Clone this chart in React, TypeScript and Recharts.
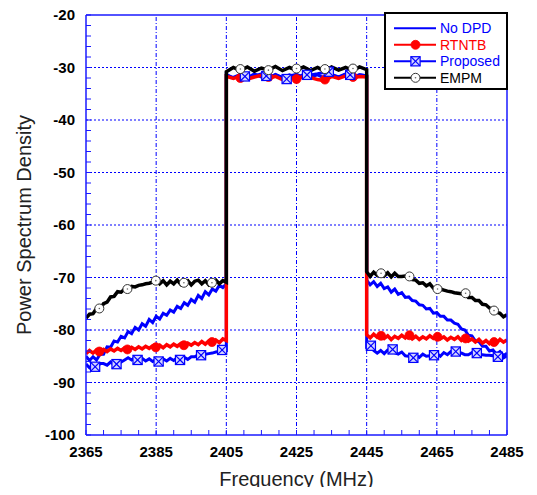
import { ComposedChart, Line, XAxis, YAxis, ReferenceLine, Legend, Label } from "recharts";

// frequency grid of the traces (MHz): lower skirt, channel, upper skirt
const leftFreq = [
  2365, 2366, 2367, 2368, 2369, 2370, 2371, 2372, 2373, 2374, 2375, 2376, 2377, 2378,
  2379, 2380, 2381, 2382, 2383, 2384, 2385, 2386, 2387, 2388, 2389, 2390, 2391, 2392,
  2393, 2394, 2395, 2396, 2397, 2398, 2399, 2400, 2401, 2402, 2403, 2404, 2405,
];
const bandFreq = [
  2405, 2407, 2409, 2411, 2413, 2415, 2417, 2419, 2421, 2423, 2425, 2427, 2429, 2431,
  2433, 2435, 2437, 2439, 2441, 2443, 2445,
];
const rightFreq = [
  2445, 2446, 2447, 2448, 2449, 2450, 2451, 2452, 2453, 2454, 2455, 2456, 2457, 2458,
  2459, 2460, 2461, 2462, 2463, 2464, 2465, 2466, 2467, 2468, 2469, 2470, 2471, 2472,
  2473, 2474, 2475, 2476, 2477, 2478, 2479, 2480, 2481, 2482, 2483, 2484, 2485,
];

// No DPD
const noDpdLeft = [
  -85.0, -85.8, -85.1, -85.7, -84.6, -84.6, -83.2, -83.3, -82.1, -82.3, -81.2, -81.5, -80.3,
  -80.7, -79.5, -80.0, -78.8, -79.3, -78.0, -78.6, -77.4, -77.9, -76.8, -77.2, -76.2, -76.6,
  -75.5, -75.9, -74.8, -75.3, -74.2, -74.7, -73.4, -74.0, -72.7, -73.3, -72.2, -72.6, -71.5,
  -71.9, -71.2,
];
const noDpdBand = [
  -31.3, -32.0, -31.4, -31.9, -31.2, -31.8, -32.0, -31.3, -31.9, -31.4, -32.0, -31.3, -31.8,
  -31.4, -32.0, -31.3, -31.8, -31.2, -31.9, -31.4, -31.6,
];
const noDpdRight = [
  -70.5, -71.4, -70.8, -71.7, -71.1, -72.1, -71.8, -72.8, -72.2, -73.2, -72.9, -73.8, -73.7,
  -74.4, -74.5, -75.2, -75.3, -76.0, -75.9, -76.8, -76.7, -77.4, -77.4, -78.1, -78.1, -78.7,
  -78.9, -79.8, -80.0, -81.0, -81.1, -82.1, -82.2, -83.1, -83.1, -84.0, -83.8, -84.6, -84.1,
  -84.9, -84.4,
];

// RTNTB
const rtntbLeft = [
  -84.5, -83.9, -84.4, -83.8, -84.2, -83.7, -84.1, -83.6, -84.0, -83.5, -83.9, -83.4, -83.8,
  -83.3, -83.7, -83.2, -83.6, -83.1, -83.5, -83.0, -83.3, -82.9, -83.4, -82.8, -83.2, -82.7,
  -83.1, -82.6, -83.0, -82.5, -82.9, -82.4, -82.8, -82.2, -82.7, -82.1, -82.5, -81.9, -82.4,
  -81.7, -82.0,
];
const rtntbBand = [
  -31.7, -32.1, -31.6, -32.2, -31.8, -31.5, -32.1, -31.7, -32.3, -31.8, -32.4, -31.6, -31.9,
  -32.3, -32.5, -31.7, -32.1, -31.6, -32.0, -31.7, -31.8,
];
const rtntbRight = [
  -80.9, -81.5, -80.8, -81.4, -80.9, -81.6, -81.1, -81.8, -81.2, -81.6, -81.0, -81.5, -80.9,
  -81.7, -81.2, -81.8, -81.3, -81.7, -81.1, -81.6, -81.1, -81.7, -81.3, -81.9, -81.4, -81.8,
  -81.3, -82.0, -81.5, -82.1, -81.7, -82.3, -81.8, -82.5, -82.0, -82.6, -82.1, -82.5, -81.8,
  -82.3, -81.9,
];

// Proposed
const proposedLeft = [
  -86.5, -87.2, -86.7, -87.1, -86.4, -86.4, -86.7, -86.1, -86.6, -86.2, -86.1, -85.7, -85.3,
  -85.7, -85.2, -85.8, -85.4, -85.9, -85.5, -86.0, -85.6, -86.1, -85.5, -85.9, -85.4, -85.8,
  -85.3, -85.7, -85.2, -85.6, -85.1, -85.1, -84.7, -84.7, -84.6, -84.5, -84.4, -84.2, -84.1,
  -83.9, -83.9,
];
const proposedBand = [
  -31.6, -31.9, -31.3, -32.0, -31.6, -31.2, -31.9, -31.4, -32.0, -31.6, -31.3, -31.9, -31.4,
  -31.2, -30.9, -31.5, -31.9, -31.3, -31.8, -31.4, -31.6,
];
const proposedRight = [
  -83.2, -82.9, -83.9, -84.4, -83.9, -84.5, -83.8, -83.8, -84.3, -84.6, -84.2, -84.9, -85.0,
  -85.4, -84.8, -85.2, -84.6, -85.0, -84.9, -84.9, -84.5, -85.0, -84.3, -84.7, -84.1, -84.2,
  -84.4, -84.4, -84.7, -84.7, -84.3, -84.5, -84.7, -84.7, -84.8, -84.8, -84.9, -85.2, -84.7,
  -85.3, -84.9,
];

// EMPM
const empmLeft = [
  -77.7, -77.0, -76.9, -75.9, -76.0, -75.0, -74.7, -73.7, -73.6, -72.7, -72.8, -72.2, -72.3,
  -71.7, -71.8, -71.5, -71.4, -71.2, -71.1, -70.9, -70.5, -71.2, -70.6, -71.4, -70.7, -71.2,
  -70.5, -71.3, -70.7, -70.6, -71.4, -70.7, -70.5, -71.2, -70.6, -71.4, -70.8, -70.5, -71.2,
  -70.6, -70.9,
];
const empmBand = [
  -30.8, -30.0, -30.6, -29.9, -30.7, -30.1, -30.5, -29.8, -30.6, -30.0, -30.5, -29.9, -30.6,
  -30.0, -30.7, -29.9, -30.5, -30.0, -30.6, -29.9, -30.4,
];
const empmRight = [
  -68.9, -69.8, -69.0, -69.6, -68.9, -69.7, -69.1, -69.9, -69.2, -69.8, -69.8, -69.7, -69.9,
  -70.4, -70.5, -71.1, -71.0, -71.6, -71.2, -72.0, -72.0, -72.2, -72.4, -72.6, -72.7, -72.9,
  -73.0, -73.1, -73.1, -73.8, -73.8, -74.4, -74.4, -75.1, -75.2, -75.8, -76.0, -76.6, -76.8,
  -77.5, -77.1,
];

// marker symbols placed along the traces
const circleMarkFreq = [
  2368.8, 2376.8, 2384.9, 2392.9, 2400.9, 2409.0, 2417.0, 2425.0, 2433.1, 2441.1, 2449.1,
  2457.2, 2465.2, 2473.2, 2481.3,
];
const rtntbMarkVal = [
  -84.1, -83.7, -83.3, -82.9, -82.3, -32.0, -31.8, -32.2, -32.3, -31.8, -81.1, -81.0, -81.3,
  -81.6, -82.3,
];
const empmMarkVal = [
  -75.9, -72.2, -70.6, -71.0, -71.0, -30.3, -30.5, -30.2, -30.3, -30.2, -69.2, -69.8, -72.2,
  -73.0, -76.3,
];
const proposedMarkFreq = [
  2367.6, 2373.7, 2379.7, 2385.7, 2391.8, 2397.8, 2403.8, 2410.3, 2416.4, 2422.2, 2428.0,
  2434.2, 2440.3, 2446.2, 2452.4, 2458.3, 2464.2, 2470.4, 2476.4, 2482.4,
];
const proposedMarkVal = [
  -87.0, -86.5, -85.7, -86.0, -85.7, -84.8, -83.8, -31.7, -31.6, -32.2, -31.4, -30.8, -31.4,
  -83.0, -83.7, -85.3, -84.8, -84.1, -84.4, -85.1,
];

const seriesNames = ["No DPD", "RTNTB", "Proposed", "EMPM"];

const xTicks = [
  2365, 2370, 2375, 2380, 2385, 2390, 2395, 2400, 2405, 2410, 2415, 2420, 2425, 2430, 2435,
  2440, 2445, 2450, 2455, 2460, 2465, 2470, 2475, 2480, 2485,
];
const xLabels = [2365, 2385, 2405, 2425, 2445, 2465, 2485];
const yTicks = [
  -100, -98, -96, -94, -92, -90, -88, -86, -84, -82, -80, -78, -76, -74, -72, -70, -68, -66,
  -64, -62, -60, -58, -56, -54, -52, -50, -48, -46, -44, -42, -40, -38, -36, -34, -32, -30,
  -28, -26, -24, -22, -20,
];
const yLabels = [-100, -90, -80, -70, -60, -50, -40, -30, -20];

const FONT = "Arial, 'Liberation Sans', Helvetica, sans-serif";
const BLUE = "#0000ff";
const RED = "#ff0000";
const AXIS = "#1a1aff";

function trace(left: number[], band: number[], right: number[]) {
  return [
    ...leftFreq.map((f, i) => ({ f, v: left[i] })),
    ...bandFreq.map((f, i) => ({ f, v: band[i] })),
    ...rightFreq.map((f, i) => ({ f, v: right[i] })),
  ];
}
const marks = (freqs: number[], vals: number[]) => freqs.map((f, i) => ({ f, v: vals[i] }));

const noDpd = trace(noDpdLeft, noDpdBand, noDpdRight);
const rtntb = trace(rtntbLeft, rtntbBand, rtntbRight);
const proposed = trace(proposedLeft, proposedBand, proposedRight);
const empm = trace(empmLeft, empmBand, empmRight);

function RedDot({ cx, cy }: { cx: number; cy: number }) {
  return <circle cx={cx} cy={cy} r={4.5} fill={RED} stroke={RED} strokeWidth={0.8} />;
}

function OpenCircle({ cx, cy }: { cx: number; cy: number }) {
  return (
    <g>
      <circle cx={cx} cy={cy} r={4.5} fill="#fff" stroke="#333" strokeWidth={1} />
      <circle cx={cx} cy={cy} r={0.8} fill="#666" />
    </g>
  );
}

function XSquare({ cx, cy }: { cx: number; cy: number }) {
  const h = 4.6;
  return (
    <g stroke={BLUE} strokeWidth={1.2}>
      <rect x={cx - h} y={cy - h} width={2 * h} height={2 * h} fill="#d4d4ff" />
      <line x1={cx - h} y1={cy - h} x2={cx + h} y2={cy + h} />
      <line x1={cx - h} y1={cy + h} x2={cx + h} y2={cy - h} />
    </g>
  );
}

const legendRows = [
  { color: BLUE, text: BLUE, Mark: null },
  { color: RED, text: RED, Mark: RedDot },
  { color: BLUE, text: BLUE, Mark: XSquare },
  { color: "#000", text: "#000", Mark: OpenCircle },
];

function LegendBox() {
  return (
    <svg width={126} height={80} style={{ display: "block" }}>
      <rect x={1} y={1} width={122} height={76} fill="#fff" stroke="#000" strokeWidth={2} />
      {legendRows.map((r, i) => {
        const y = 16.3 + i * 16.5;
        const M = r.Mark;
        return (
          <g key={seriesNames[i]}>
            <line x1={10} x2={52} y1={y} y2={y} stroke={r.color} strokeWidth={2} />
            {M && <M cx={31.5} cy={y} />}
            <text x={56} y={y + 5} fill={r.text} fontSize={14} fontFamily={FONT}>
              {seriesNames[i]}
            </text>
          </g>
        );
      })}
    </svg>
  );
}

const tickStyle = { fill: "#000", fontSize: 15, fontWeight: "bold", fontFamily: FONT };

export default function App() {
  // negative vertical margins cancel the body margin so the chart can use the full page height
  return (
    <div style={{ fontFamily: FONT, marginTop: -8, marginBottom: -8 }}>
      <ComposedChart width={521} height={495} margin={{ top: 8, right: 0, left: 18, bottom: 30 }}>
        <XAxis
          xAxisId="b"
          dataKey="f"
          type="number"
          domain={[2365, 2485]}
          allowDataOverflow
          ticks={xTicks}
          interval={0}
          height={30}
          tickSize={-5}
          tickMargin={16}
          tick={tickStyle}
          tickFormatter={(v: number) => (xLabels.includes(v) ? String(v) : "")}
          axisLine={{ stroke: AXIS, strokeWidth: 1.5 }}
          tickLine={{ stroke: AXIS }}
        >
          <Label value="Frequency (MHz)" position="bottom" offset={7} fontSize={20} fill="#222" fontFamily={FONT} />
        </XAxis>
        <XAxis
          xAxisId="t"
          orientation="top"
          type="number"
          domain={[2365, 2485]}
          allowDataOverflow
          ticks={xTicks}
          interval={0}
          height={7}
          tickSize={-5}
          tick={false}
          axisLine={{ stroke: AXIS, strokeWidth: 1.5 }}
          tickLine={{ stroke: AXIS }}
        />
        <YAxis
          yAxisId="l"
          type="number"
          domain={[-100, -20]}
          allowDataOverflow
          ticks={yTicks}
          interval={0}
          width={60}
          tickSize={-5}
          tickMargin={16}
          tick={tickStyle}
          tickFormatter={(v: number) => (yLabels.includes(v) ? String(v) : "")}
          axisLine={{ stroke: AXIS, strokeWidth: 1.5 }}
          tickLine={{ stroke: AXIS }}
        >
          <Label
            value="Power Spectrum Density"
            angle={-90}
            position="insideLeft"
            offset={-2}
            fontSize={20}
            fill="#222"
            fontFamily={FONT}
            style={{ textAnchor: "middle" }}
          />
        </YAxis>
        <YAxis
          yAxisId="r"
          orientation="right"
          type="number"
          domain={[-100, -20]}
          allowDataOverflow
          ticks={yTicks}
          interval={0}
          width={22}
          tickSize={-5}
          tick={false}
          axisLine={{ stroke: AXIS, strokeWidth: 1.5 }}
          tickLine={{ stroke: AXIS }}
        />

        {xLabels.slice(1, -1).map((v) => (
          <ReferenceLine key={`gx${v}`} xAxisId="b" yAxisId="l" x={v} stroke={BLUE} strokeWidth={1} strokeDasharray="4 2 1 2" />
        ))}
        {yLabels.slice(1, -1).map((v) => (
          <ReferenceLine key={`gy${v}`} xAxisId="b" yAxisId="l" y={v} stroke={BLUE} strokeWidth={1} strokeDasharray="2 2" />
        ))}

        <Line data={noDpd} dataKey="v" xAxisId="b" yAxisId="l" type="linear" stroke={BLUE} strokeWidth={3} dot={false} isAnimationActive={false} />
        <Line data={proposed} dataKey="v" xAxisId="b" yAxisId="l" type="linear" stroke={BLUE} strokeWidth={3} dot={false} isAnimationActive={false} />
        <Line data={rtntb} dataKey="v" xAxisId="b" yAxisId="l" type="linear" stroke={RED} strokeWidth={3.5} dot={false} isAnimationActive={false} />
        <Line data={empm} dataKey="v" xAxisId="b" yAxisId="l" type="linear" stroke="#000" strokeWidth={3.5} dot={false} isAnimationActive={false} />

        <Line
          data={marks(circleMarkFreq, rtntbMarkVal)}
          dataKey="v"
          xAxisId="b"
          yAxisId="l"
          stroke="none"
          legendType="none"
          isAnimationActive={false}
          dot={(p: any) => <RedDot key={`r${p.index}`} cx={p.cx} cy={p.cy} />}
        />
        <Line
          data={marks(proposedMarkFreq, proposedMarkVal)}
          dataKey="v"
          xAxisId="b"
          yAxisId="l"
          stroke="none"
          legendType="none"
          isAnimationActive={false}
          dot={(p: any) => <XSquare key={`p${p.index}`} cx={p.cx} cy={p.cy} />}
        />
        <Line
          data={marks(circleMarkFreq, empmMarkVal)}
          dataKey="v"
          xAxisId="b"
          yAxisId="l"
          stroke="none"
          legendType="none"
          isAnimationActive={false}
          dot={(p: any) => <OpenCircle key={`e${p.index}`} cx={p.cx} cy={p.cy} />}
        />

        <Legend
          layout="vertical"
          align="center"
          verticalAlign="middle"
          content={() => <LegendBox />}
          wrapperStyle={{ left: 376, top: 12, width: 126, height: 80 }}
        />
      </ComposedChart>
    </div>
  );
}
